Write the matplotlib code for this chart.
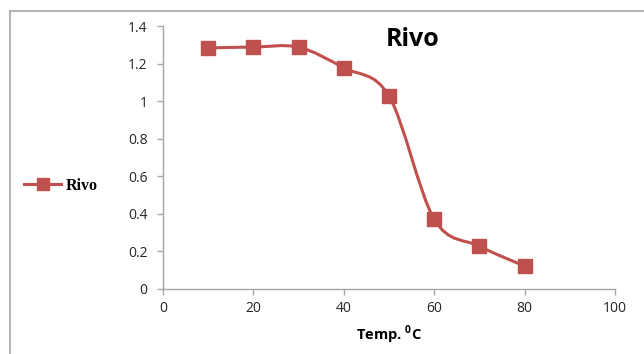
import numpy as np
import matplotlib
matplotlib.use("Agg")
import matplotlib.pyplot as plt
from matplotlib.path import Path
from matplotlib.patches import PathPatch
from matplotlib.lines import Line2D

# data
temps = [10, 20, 30, 40, 50, 60, 70, 80]
rivo = [1.283, 1.288, 1.287, 1.177, 1.027, 0.372, 0.228, 0.122]

red = "#C0504D"
grey = "#A6A6A6"

plt.rcParams["font.family"] = ["Open Sans", "DejaVu Sans"]
plt.rcParams["mathtext.fontset"] = "custom"
plt.rcParams["mathtext.rm"] = "Open Sans"
plt.rcParams["mathtext.bf"] = "Open Sans:bold"

fig = plt.figure(figsize=(6.44, 3.54), dpi=100)
ax = fig.add_axes([163 / 644, 1 - 289 / 354, (615 - 163) / 644, (289 - 26) / 354])


def smooth_path(x, y):
    # Excel-style smoothed line: cubic bezier with catmull-rom control points
    p = np.column_stack([x, y]).astype(float)
    n = len(p)
    verts = [p[0]]
    codes = [Path.MOVETO]
    for i in range(n - 1):
        p0 = p[i - 1] if i > 0 else p[i]
        p3 = p[i + 2] if i + 2 < n else p[i + 1]
        c1 = p[i] + (p[i + 1] - p0) / 6
        c2 = p[i + 1] - (p3 - p[i]) / 6
        verts += [c1, c2, p[i + 1]]
        codes += [Path.CURVE4] * 3
    return Path(verts, codes)


ax.add_patch(PathPatch(smooth_path(temps, rivo), facecolor="none",
                       edgecolor=red, lw=2.2, capstyle="round"))
ax.plot(temps, rivo, ls="none", marker="s", ms=10, color=red, mec=red)

ax.set_xlim(0, 100)
ax.set_ylim(0, 1.4)
ax.set_xticks(np.arange(0, 101, 20))
ax.set_yticks(np.arange(0, 1.41, 0.2))
ax.set_yticklabels(["0", "0.2", "0.4", "0.6", "0.8", "1", "1.2", "1.4"])

for s in ["top", "right"]:
    ax.spines[s].set_visible(False)
for s in ["left", "bottom"]:
    ax.spines[s].set_color(grey)
    ax.spines[s].set_linewidth(1)
ax.tick_params(colors=grey, labelcolor="#262626", labelsize=10, length=4,
               width=1, direction="out")
ax.tick_params(axis="y", pad=7)
ax.tick_params(axis="x", pad=5)

fig.text(413 / 644, 1 - 40 / 354, "Rivo", ha="center", va="center",
         fontsize=18, fontweight="bold")
fig.text(389 / 644, 1 - 335 / 354, r"Temp. $^{\mathbf{0}}$C", ha="center",
         va="center", fontsize=10.5, fontweight="bold")

handle = Line2D([], [], color=red, lw=2.2, marker="s", ms=8, mec=red)
fig.legend([handle], ["Rivo"], loc="center left",
           bbox_to_anchor=(10 / 644, 1 - 186 / 354), frameon=False,
           handlelength=2.3, handletextpad=0.3,
           prop={"family": "Liberation Serif", "weight": "bold", "size": 11.5})

# outer chart border (top and left only visible)
fig.add_artist(Line2D([10 / 644, 1], [1 - 11 / 354, 1 - 11 / 354],
                      color=grey, lw=1.2, transform=fig.transFigure))
fig.add_artist(Line2D([10 / 644, 10 / 644], [0, 1 - 11 / 354],
                      color=grey, lw=1.2, transform=fig.transFigure))

fig.savefig("out.png", dpi=100)
